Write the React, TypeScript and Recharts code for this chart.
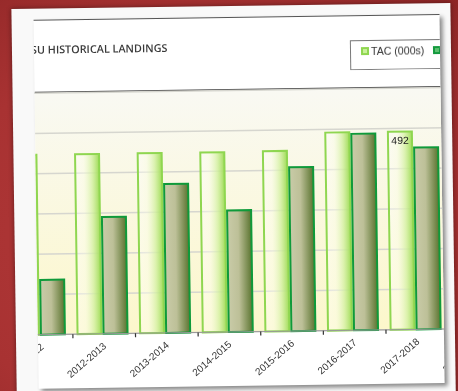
import React from 'react';
import { BarChart, Bar, XAxis, YAxis, CartesianGrid, Legend, LabelList } from 'recharts';

const seasons = ['2011-2012', '2012-2013', '2013-2014', '2014-2015', '2015-2016', '2016-2017', '2017-2018', '2018-2019'];
const tacValues: (number | null)[] = [447, 447, 447, 447, 448, 492, 492, null];
const landingValues: (number | null)[] = [136, 290, 370, 302, 407, 488, 452, null];
const yTicks = [0, 100, 200, 300, 400, 500, 600];
const labelledSeason = '2017-2018';
const titleText = 'SU HISTORICAL LANDINGS';
const seriesNames = ['TAC (000s)', 'Landings (000s)'];

const data = seasons.map((s, i) => ({
  season: s,
  tac: tacValues[i],
  landings: landingValues[i],
  tacLabel: s === labelledSeason ? tacValues[i] : undefined,
}));

const SeasonTick = (props: any) => {
  const { x, y, payload } = props;
  return (
    <g transform={`translate(${x},${y})`}>
      <line x1={-30} x2={-30} y1={0} y2={4} stroke="#333" strokeWidth={1.2} />
      <text
        x={4}
        y={13.3}
        textAnchor="end"
        transform="rotate(-40, 4, 13.3)"
        fontSize={10}
        fontFamily="'Liberation Sans', Arial, sans-serif"
        fill="#333"
      >
        {payload.value}
      </text>
    </g>
  );
};

const swatches: Record<string, { border: string; inner: string }> = {
  tac: { border: '#8fd650', inner: '#c9f09c' },
  landings: { border: '#149a3e', inner: '#5cc070' },
};

const LegendBox = (props: any) => {
  const payload = props.payload || [];
  const ordered = seriesNames
    .map((n) => payload.find((p: any) => p.value === n))
    .filter(Boolean);
  return (
    <div
      style={{
        border: '1px solid #7a7a7a',
        height: 30,
        width: 150,
        boxSizing: 'border-box',
        display: 'flex',
        alignItems: 'flex-start',
        paddingTop: 4,
        paddingLeft: 10,
        fontFamily: "'Liberation Sans', Arial, sans-serif",
        fontSize: 10.6,
        color: '#333',
        background: '#fff',
      }}
    >
      {ordered.map((p: any, i: number) => {
        const sw = swatches[p.dataKey] || swatches.tac;
        return (
          <div key={i} style={{ display: 'flex', alignItems: 'center', marginRight: 9, whiteSpace: 'nowrap' }}>
            <span
              style={{
                display: 'inline-block',
                width: 4,
                height: 4,
                border: `2px solid ${sw.border}`,
                background: sw.inner,
                marginRight: 2,
              }}
            />
            <span>{p.value}</span>
          </div>
        );
      })}
    </div>
  );
};

export default function App() {
  return (
    <div
      style={{
        position: 'fixed',
        left: 0,
        top: 0,
        width: 458,
        height: 391,
        overflow: 'hidden',
        background: 'radial-gradient(ellipse at 40% 60%, #b43a3a 0%, #a83232 60%, #8e2626 100%)',
      }}
    >
      <div
        style={{
          position: 'absolute',
          left: 14,
          top: 6,
          width: 439,
          height: 410,
          background: '#f9f9f9',
          boxShadow: '0 0 5px rgba(0,0,0,0.45)',
          transform: 'rotate(-0.8deg)',
          transformOrigin: '215px 189px',
        }}
      >
        <div
          style={{
            position: 'absolute',
            left: 22,
            top: 11,
            width: 406,
            height: 368,
            background: '#ffffff',
            borderTop: '1px solid #555',
            boxShadow: '3px 3px 4px rgba(0,0,0,0.45)',
            overflow: 'hidden',
          }}
        >
          <div
            style={{
              position: 'absolute',
              left: -3,
              top: 23,
              fontFamily: "'Open Sans', sans-serif",
              fontWeight: 600,
              fontSize: 10.8,
              lineHeight: '12px',
              color: '#3a3a3a',
              whiteSpace: 'nowrap',
            }}
          >
            {titleText}
          </div>
          <div style={{ position: 'absolute', left: 0, top: 71, width: 406, height: 1.5, background: '#4a4a4a' }} />
          <div style={{ position: 'absolute', left: -29, top: 0 }}>
            <BarChart
              width={501}
              height={367}
              data={data}
              margin={{ top: 72.5, right: 0, bottom: 0, left: 0 }}
              barSize={24}
              barGap={2}
            >
              <defs>
                <linearGradient id="plotBg" x1="0" y1="0" x2="0" y2="1">
                  <stop offset="0%" stopColor="#f9f9f3" />
                  <stop offset="100%" stopColor="#fcf7cb" />
                </linearGradient>
                <linearGradient id="tacFill" x1="0" y1="0" x2="1" y2="0">
                  <stop offset="0%" stopColor="#ffffff" stopOpacity={0.35} />
                  <stop offset="35%" stopColor="#fafde8" stopOpacity={0.5} />
                  <stop offset="70%" stopColor="#d2f0a0" stopOpacity={0.8} />
                  <stop offset="100%" stopColor="#9fdb58" stopOpacity={1} />
                </linearGradient>
                <linearGradient id="landFill" x1="0" y1="0" x2="1" y2="0">
                  <stop offset="0%" stopColor="#c9cba8" />
                  <stop offset="45%" stopColor="#bdc098" />
                  <stop offset="100%" stopColor="#5b7430" />
                </linearGradient>
              </defs>
              <CartesianGrid
                vertical={false}
                fill="url(#plotBg)"
                fillOpacity={1}
                stroke="#d6d6cf"
                strokeWidth={1.5}
              />
              <XAxis
                dataKey="season"
                height={53}
                tickLine={false}
                tickSize={0}
                tickMargin={0}
                axisLine={{ stroke: '#999', strokeWidth: 1 }}
                interval={0}
                tick={<SeasonTick />}
              />
              <YAxis hide domain={[0, 600]} ticks={yTicks} />
              <Legend
                layout="horizontal"
                verticalAlign="middle"
                align="center"
                content={<LegendBox />}
                wrapperStyle={{ left: 345, top: 24, width: 150, height: 30 }}
              />
              <Bar
                dataKey="tac"
                name={seriesNames[0]}
                fill="url(#tacFill)"
                stroke="#8fd650"
                strokeWidth={2}
                isAnimationActive={false}
              >
                <LabelList
                  dataKey="tacLabel"
                  position="insideTop"
                  offset={5}
                  fill="#222"
                  fontSize={10.5}
                  fontFamily="'Liberation Sans', Arial, sans-serif"
                />
              </Bar>
              <Bar
                dataKey="landings"
                name={seriesNames[1]}
                fill="url(#landFill)"
                stroke="#0f9a3a"
                strokeWidth={2}
                isAnimationActive={false}
              />
            </BarChart>
          </div>
        </div>
      </div>
    </div>
  );
}
